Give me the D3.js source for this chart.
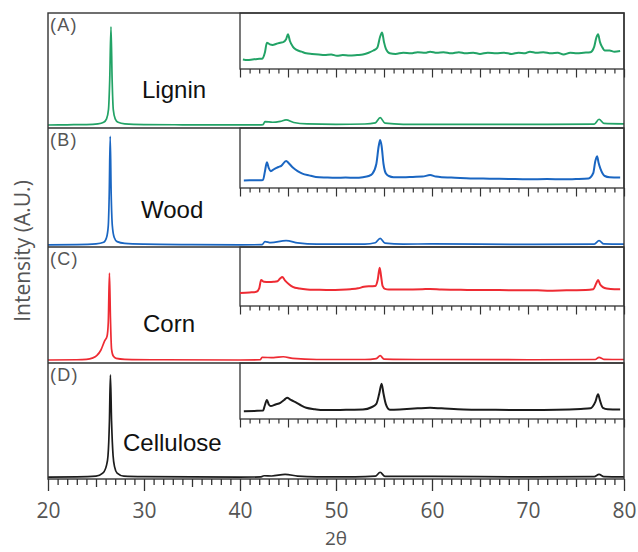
<!DOCTYPE html>
<html>
<head>
<meta charset="utf-8">
<script src="https://cdn.jsdelivr.net/npm/d3@7"></script>
<style>
  body { margin: 0; background: #fff; }
  svg { display: block; }
</style>
</head>
<body>
<div id="chart"></div>
<script>
var w = 638,
    h = 552;

// sample names, panel letters, colours
var samples = ["Lignin", "Wood", "Corn", "Cellulose"];
var letters = ["(A)", "(B)", "(C)", "(D)"];
var colors = ["#22a366", "#1a66c2", "#ee2b33", "#1c1c1c"];
var xTicks = [20, 30, 40, 50, 60, 70, 80];

// full scans, [2theta, intensity %]
var ligninMain = [[20,2.6],[22,2.8],[24,3],[25.2,3.6],[25.8,5],[26.1,8],[26.3,16],[26.43,42],[26.56,88],[26.68,42],[26.8,16],[27,8],[27.3,5],[28,3.6],[30,3],[34,2.8],[38,2.7],[42,2.8],[42.4,3],[42.6,5.5],[43.4,5],[44.2,5.8],[44.8,7],[45.6,4.8],[47,3.6],[50,3.2],[53,3.5],[54.1,4.5],[54.6,9],[55.1,4.2],[57,3.2],[65,3.2],[72,3.2],[76.9,3.4],[77.4,7.6],[77.9,4],[80,3.6]];
var woodMain = [[20,1.8],[23,2],[25,2.6],[25.8,4],[26.1,8],[26.28,18],[26.38,45],[26.48,93],[26.58,45],[26.7,18],[26.9,8],[27.2,4.5],[28,3],[30,2.4],[35,2],[40,1.8],[42.3,2],[42.6,4.5],[43.2,3.6],[44.8,5.3],[46,3.5],[48,2.4],[53,2.4],[54.1,3.6],[54.6,7.3],[55.1,3.2],[57,2.4],[60,2.6],[70,2.2],[76.9,2.4],[77.4,5.3],[77.9,2.6],[80,2.4]];
var cornMain = [[20,2.6],[23,2.8],[24,3.2],[24.6,4.2],[25.1,6.5],[25.5,11],[25.9,19],[26.15,23],[26.28,35],[26.4,77.6],[26.5,40],[26.62,12],[26.8,6],[27.1,4],[28,3.2],[32,2.8],[40,2.6],[42.1,2.8],[42.3,4.9],[43.5,4.6],[44.5,5.4],[45.5,4],[48,3],[53,3],[54.2,3.8],[54.6,6.3],[55,3.4],[60,3],[70,2.8],[77,3],[77.4,4.9],[77.9,3.2],[80,3]];
var celluloseMain = [[20,1.6],[23,1.8],[25,2.4],[25.7,5],[26.1,12],[26.25,20],[26.4,50],[26.5,89.7],[26.62,50],[26.78,20],[26.95,10],[27.2,5],[27.9,2.4],[30,2],[40,1.6],[42.2,1.8],[42.5,2.8],[43.3,2.6],[44.7,4],[46,2.5],[48,1.8],[52,1.8],[54.1,2.4],[54.6,5.8],[55.1,2.2],[60,2.2],[70,1.8],[76.9,2],[77.4,4],[77.9,2],[80,1.8]];

// inset scans 40-80, [2theta, intensity % of inset]
var ligninInset = [[40.3,17],[40.8,16],[41.3,17],[41.8,18],[42.3,18.5],[42.6,30],[42.8,47],[43.1,44],[43.4,43],[43.8,45],[44.2,47],[44.5,48],[44.8,53],[45,62],[45.2,50],[45.5,40],[45.9,34],[46.4,31],[46.9,28],[47.5,27],[48.2,26],[48.8,25],[49.5,26],[50.1,23.5],[50.7,25],[51.4,24],[52.2,25],[52.8,26],[53.4,29],[53.9,33],[54.3,38],[54.6,58],[54.8,65],[55,48],[55.2,36],[55.6,28],[56.2,27],[57,29],[57.8,28],[58.5,30],[59.3,29],[59.8,31],[60.5,29],[61.2,30],[62,28],[62.8,30],[63.5,28],[64.3,29],[65,27],[65.8,29],[66.7,28],[67.5,29],[68.3,27],[69,29],[69.7,28],[70.2,31],[70.9,29],[71.6,30],[72.4,28],[73.1,29],[73.7,26],[74.4,29],[75.1,28],[75.8,29],[76.5,30],[76.9,40],[77.1,55],[77.3,62],[77.5,48],[77.7,40],[78,33],[78.5,33],[79,31],[79.6,32]];
var woodInset = [[40.4,12.6],[41,12.8],[42,13],[42.4,13.5],[42.6,28],[42.8,43],[43,33],[43.2,28],[43.6,32],[44,35],[44.3,37],[44.8,45],[45.1,41],[45.5,34],[46,28],[46.5,24],[47.2,21],[47.9,18.5],[49,17.5],[50,17],[51,17.5],[52,17],[52.8,18],[53.4,20],[53.8,24],[54.2,40],[54.45,70],[54.6,80],[54.75,70],[54.95,40],[55.2,24],[55.5,20],[56,18],[57,18],[58,18.5],[59,19],[59.8,21.5],[60.4,19],[61,18],[62,17.5],[64,16],[66,15.5],[68,15],[70,14.5],[72,14.8],[73.7,14.5],[75,15],[76.3,16],[76.8,25],[77,44],[77.2,53],[77.35,42],[77.55,32],[78,20],[78.5,18],[79.6,17.5]];
var cornInset = [[40,22],[41,23],[41.7,24],[42,30],[42.2,44],[42.5,41],[43,40.5],[43.5,41],[43.9,42],[44.2,47],[44.4,49],[44.7,43],[45.1,37],[45.5,32.5],[46.2,29.5],[47,28],[48,27.5],[49.5,27],[50.5,27.5],[51.5,28.5],[52.3,30],[52.9,32.5],[53.6,33.5],[54.1,34],[54.35,45],[54.55,65],[54.7,50],[54.85,34],[55.1,29],[55.5,28],[57,28],[59,28.5],[59.8,29],[61,28],[63,27.5],[65,27],[67,27],[69,26.5],[71,26.5],[72,26],[74,26.5],[76,27],[76.8,28.5],[77.1,38],[77.3,44],[77.5,37],[77.8,32],[78.2,29.5],[79,28.5],[79.6,28.5]];
var celluloseInset = [[40.4,14],[41.5,14.5],[42.4,15],[42.6,25],[42.8,34],[43,26],[43.2,23],[43.7,26],[44.2,29],[44.6,34],[44.9,38],[45.3,34],[45.9,29],[46.4,24],[46.9,20],[47.8,17.5],[48.7,16],[50,16],[51.5,16.5],[52.8,17],[53.7,21],[54.2,27],[54.5,45],[54.75,63],[54.95,45],[55.2,26],[55.6,16.5],[57,17.5],[58.5,19],[59.8,20],[61,19],[63.3,17],[66,16.5],[70.2,16],[73,16.5],[75.5,18],[76.5,19],[77,30],[77.3,44],[77.5,33],[77.8,20],[78.3,17.5],[79.6,17]];

var mains = [ligninMain, woodMain, cornMain, celluloseMain];
var insets = [ligninInset, woodInset, cornInset, celluloseInset];

var left = 48, right = 624;
var panelTops = [13, 128, 247, 363],
    panelBottoms = [128, 247, 363, 479];
var insetH = [56, 60, 59, 56];

var x = d3.scaleLinear().domain([20, 80]).range([left, right]);

var svg = d3.select("#chart")
    .append("svg")
    .attr("width", w)
    .attr("height", h);

var line = d3.line()
    .x(function(d) { return x(d[0]); })
    .curve(d3.curveMonotoneX);

samples.forEach(function(name, i) {
    var top = panelTops[i], bottom = panelBottoms[i];
    var y = d3.scaleLinear().domain([0, 100]).range([bottom, top]);
    var g = svg.append("g");

    g.append("path")
        .datum(mains[i])
        .attr("fill", "none")
        .attr("stroke", colors[i])
        .attr("stroke-width", 1.7)
        .attr("d", line.y(function(d) { return y(d[1]); }));

    // inset box
    var ib = top + insetH[i];
    var yi = d3.scaleLinear().domain([0, 100]).range([ib, top]);
    g.append("rect")
        .attr("x", x(40)).attr("y", top)
        .attr("width", x(80) - x(40)).attr("height", insetH[i])
        .attr("fill", "#fff")
        .attr("stroke", "#333")
        .attr("stroke-width", 1.3);

    g.append("path")
        .datum(insets[i])
        .attr("fill", "none")
        .attr("stroke", colors[i])
        .attr("stroke-width", 2)
        .attr("stroke-linejoin", "round")
        .attr("d", line.y(function(d) { return yi(d[1]); }));

    // inset ticks
    var minor = d3.range(40, 81, 1).filter(function(v) { return v % 5 != 0; });
    var ia = g.append("g").attr("transform", "translate(0," + ib + ")");
    ia.call(d3.axisBottom(x).tickValues(minor).tickSize(4.5).tickSizeOuter(0).tickFormat(""));
    ia.append("g").call(d3.axisBottom(x).tickValues(d3.range(40, 81, 5)).tickSize(8.5).tickSizeOuter(0).tickFormat(""));
    ia.selectAll(".domain").remove();
    ia.selectAll("line").attr("stroke", "#333").attr("stroke-width", 1.2);

    g.append("text")
        .attr("x", 50).attr("y", top + 18)
        .attr("font-family", "Liberation Sans, Arial, sans-serif")
        .attr("font-size", 18)
        .attr("letter-spacing", 1.2)
        .attr("fill", "#555")
        .text(letters[i]);
});

// sample labels
var labelX = [142, 141, 143, 123],
    labelY = [98, 218, 332, 451];
svg.selectAll(".sample")
    .data(samples)
    .enter()
    .append("text")
    .attr("class", "sample")
    .attr("x", function(d, i) { return labelX[i]; })
    .attr("y", function(d, i) { return labelY[i]; })
    .attr("font-family", "Liberation Sans, Arial, sans-serif")
    .attr("font-size", 24)
    .attr("fill", "#111")
    .text(function(d) { return d; });

// frame
svg.append("rect")
    .attr("x", left).attr("y", panelTops[0])
    .attr("width", right - left).attr("height", panelBottoms[3] - panelTops[0])
    .attr("fill", "none")
    .attr("stroke", "#333")
    .attr("stroke-width", 1.4);
svg.selectAll(".divider")
    .data(panelTops.slice(1))
    .enter()
    .append("line")
    .attr("x1", left).attr("x2", right)
    .attr("y1", function(d) { return d; })
    .attr("y2", function(d) { return d; })
    .attr("stroke", "#333")
    .attr("stroke-width", 1.4);

// bottom axis
var ax = svg.append("g").attr("transform", "translate(0," + panelBottoms[3] + ")");
ax.append("g").call(d3.axisBottom(x).tickValues(d3.range(20, 81, 1).filter(function(v) { return v % 5 != 0; })).tickSize(6).tickSizeOuter(0).tickFormat(""));
ax.append("g").call(d3.axisBottom(x).tickValues(d3.range(25, 80, 10)).tickSize(8).tickSizeOuter(0).tickFormat(""));
ax.append("g").call(d3.axisBottom(x).tickValues(xTicks).tickSize(12).tickSizeOuter(0).tickPadding(12));
ax.selectAll(".domain").remove();
ax.selectAll("line").attr("stroke", "#333").attr("stroke-width", 1.3);
ax.selectAll("text")
    .attr("font-family", "Open Sans, sans-serif")
    .attr("font-size", 21)
    .attr("fill", "#555");

svg.append("text")
    .attr("x", x(50)).attr("y", 545)
    .attr("text-anchor", "middle")
    .attr("font-family", "Open Sans, sans-serif")
    .attr("font-size", 19)
    .attr("fill", "#555")
    .text("2θ");

svg.append("text")
    .attr("transform", "translate(30,251) rotate(-90)")
    .attr("text-anchor", "middle")
    .attr("font-family", "Open Sans, sans-serif")
    .attr("font-size", 21)
    .attr("fill", "#555")
    .text("Intensity (A.U.)");
</script>
</body>
</html>
